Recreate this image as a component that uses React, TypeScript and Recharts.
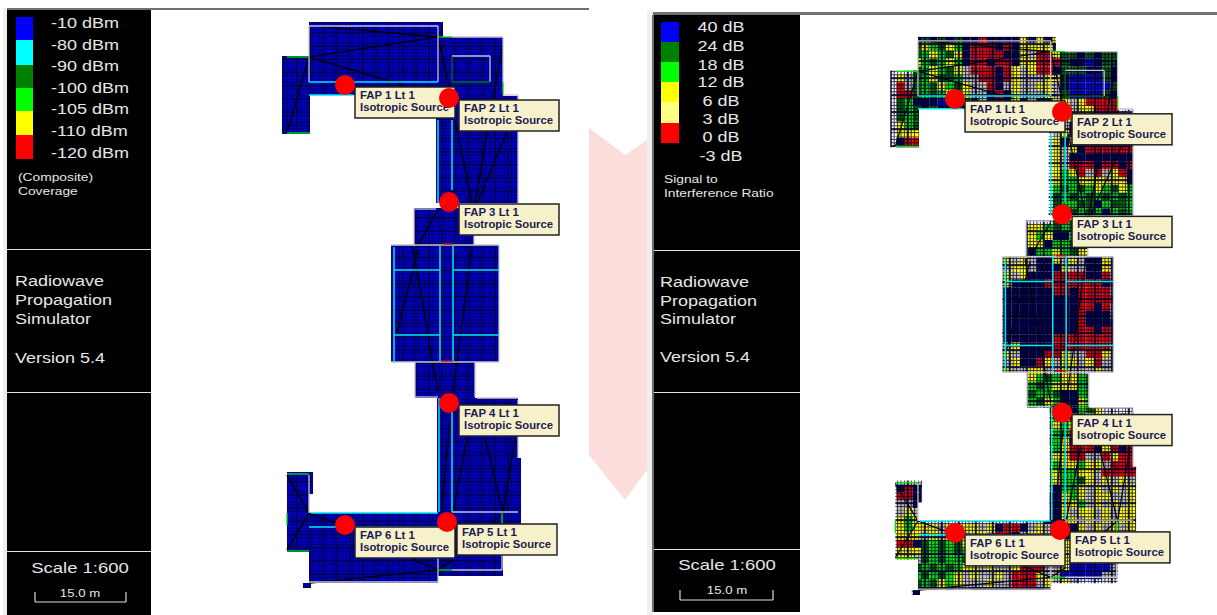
import { ComposedChart, ReferenceArea, ReferenceLine, Scatter, XAxis, YAxis } from "recharts";

// everything is placed on the picture's own grid, the right plan uses a second axis pair
const W = 1217;
const H = 615;

// building outline [x1, y1, x2, y2] in plan units
const rooms = [
  [309, 22, 443, 83],
  [309, 83, 438, 95],
  [282, 56, 310, 134],
  [438, 37, 503, 97],
  [436, 96, 518, 203],
  [414, 208, 474, 247],
  [391, 245, 499, 362],
  [415, 362, 475, 398],
  [437, 398, 518, 513],
  [518, 458, 521, 527],
  [309, 513, 518, 527],
  [287, 472, 309, 552],
  [309, 472, 313, 494],
  [309, 527, 438, 583],
  [438, 527, 503, 576],
  [303, 583, 311, 588],
];

const greyWalls = [
  [309, 26, 438, 26], [438, 26, 438, 82], [309, 26, 309, 82], [452, 37, 503, 37], [503, 37, 503, 83],
  [452, 56, 490, 56], [490, 56, 490, 82], [503, 95, 518, 95], [518, 95, 518, 203], [414, 209, 436, 209],
  [414, 209, 414, 246], [474, 218, 474, 245], [391, 245, 499, 245], [391, 362, 499, 362], [499, 245, 499, 362],
  [415, 362, 415, 397], [415, 397, 438, 397], [475, 362, 475, 397], [477, 398, 518, 398], [518, 400, 518, 458],
  [452, 512, 518, 512], [309, 475, 309, 513], [309, 582, 438, 582], [438, 527, 438, 582], [452, 570, 502, 570],
  [502, 527, 502, 570],
];
const cyanWalls = [
  [309, 82, 438, 82], [309, 95, 353, 95], [438, 120, 438, 203], [452, 120, 452, 190], [394, 247, 394, 362],
  [440, 245, 440, 362], [453, 245, 453, 362], [394, 270, 440, 270], [453, 270, 499, 270], [394, 335, 440, 335],
  [453, 335, 499, 335], [439, 398, 439, 512], [452, 400, 452, 512], [311, 513, 438, 513], [309, 527, 438, 527],
];
const greenWalls = [
  [287, 57, 309, 57], [287, 133, 310, 133], [438, 37, 452, 37], [503, 82, 503, 95], [287, 474, 309, 474],
  [287, 551, 309, 551], [287, 513, 287, 525], [502, 513, 502, 527], [438, 570, 452, 570],
];
const darkGreenWalls = [[452, 82, 490, 82], [452, 56, 452, 82]];
const redWalls = [[443, 244, 453, 244], [441, 361, 453, 361]];
const rays = [
  [315, 26, 437, 37], [309, 57, 437, 37], [309, 57, 403, 85], [309, 57, 287, 133], [438, 37, 450, 90],
  [502, 47, 475, 203], [455, 120, 472, 203], [507, 132, 477, 203], [438, 210, 417, 247], [418, 250, 395, 340],
  [413, 247, 438, 393], [472, 247, 453, 393], [467, 438, 453, 513], [485, 438, 503, 513], [515, 438, 503, 513],
  [287, 475, 309, 513], [309, 513, 287, 550], [309, 513, 335, 523], [438, 570, 310, 583], [438, 570, 410, 558],
  [438, 570, 453, 560], [503, 513, 483, 530], [450, 420, 442, 507],
];

const faps = [
  { x: 345, y: 85, name: "FAP 1 Lt 1" },
  { x: 449, y: 98, name: "FAP 2 Lt 1" },
  { x: 449, y: 202, name: "FAP 3 Lt 1" },
  { x: 449, y: 403, name: "FAP 4 Lt 1" },
  { x: 447, y: 522, name: "FAP 5 Lt 1" },
  { x: 345, y: 525, name: "FAP 6 Lt 1" },
];

// signal to interference map, one row every 8 plan units from y=20, one column every 8 from x=280
const sirRows = [
  "...ngngngnnrnnnnynyny..........",
  "...gyGgyGnrrrnrnyyyyn..........",
  "...gGyGgynrrrrnnywrryggngngg...",
  "...yGgGyGnrrnrrnyyrrrgnnbngg...",
  "...gGyGgywrrrnrywyrrngggnngn...",
  ".ywgGyggGwwrrnrywwwyynbbbbgn...",
  ".rwgGgyGgywwrnwywwyywnbbbbbg...",
  ".rrgGgGygywwnrnywwwywgbbbbgn...",
  ".gGnnnbnGgnwnnnynwnnyywyrrrr...",
  ".gGgngnnnngngnnnnnnnnywyyrrr...",
  ".gGgG...............ywyyyynynyn",
  ".yGgy...............ywnnwnynynyn",
  ".yyyw...............wynnyyynynyy",
  ".nrrr...............ynyrrrrrrnrr",
  ".nrnr...............ywynrrrrrrrn",
  "....................ywnnnnnnnnnn",
  "....................ywrrrnrrnrrr",
  "....................yGyrwrwyrnnn",
  "....................yGGyyyyyynyy",
  "....................GgGgGyGgyGgg",
  "....................gGgGgGgGgGgG",
  "....................gGGggnGggGgn",
  "....................gGgGgGnGgGgg",
  "....................gGgg.......",
  ".................yyGgGgyyy.....",
  ".................yGynnGGyyw....",
  ".................yynGGgyyGy....",
  ".................nGGyGgyyyw....",
  "..............ywywnnywywnnyw...",
  "..............wyywnnnywwnnyw...",
  "..............ywynnnrrrrnnrw...",
  "..............ynnnnrrrrrrrnr...",
  "..............nnnnnnrrnrrrrw...",
  "..............nnnnnnnnnrrrrr...",
  "..............nnnnnnnnnrrnrw...",
  "..............nnnnnnnnnrnnnw...",
  "..............nnnnnnnnnrnnnn...",
  "..............nnnnnnnnnrrnrr...",
  "..............nnnnnnrrrrrrrr...",
  "..............wynnnnrrrrrrrw...",
  "..............ywnnnrrywwrryw...",
  "..............wynnrywyywyrww...",
  "..............ywwyywwywwwywy...",
  ".................yGgGyyGgGgy...",
  ".................GgGyyyGgGg....",
  ".................gGGgnnGgGy....",
  ".................GgyGnnyGgG....",
  ".................gGgnnnGgy.....",
  "...................yGyrnyywynwn",
  "...................gyGynrrynrnr",
  "...................yGGrrnnrrrny",
  "...................gGynrnnnnrrr",
  "...................yGyrrrnyrnrw",
  "...................wyyrrwwryrrr",
  "...................yGyyGyywrrrr",
  "...................yyGGyywrrrrw",
  "...................yyGGgywywywy",
  ".nrn...............wnGGywywywyw",
  ".rrn...............nnyGywyywwyy",
  ".wwn...............nnyyGwywywyw",
  ".wyw...............nnywyywywyyy",
  ".yGy...............nnyywywywyyw",
  ".yGyyywywyywynrrnwywynnywywywyw",
  ".yyywywyywyywrrnwyywwnnywywywyw",
  ".rrngGgGgyGgywywyyrwwyywwywwyww",
  ".yyygGgGgGGgyywyywwwwyywwyw....",
  ".yywgGgGGgGyywyywwrwyybbbbbw...",
  "...gGgGgGyywywwyrrrwwybbbbbw...",
  "...GgGgGywywwywrrrywwbbbbbww...",
  "...gGgyGywwwywwrrrwywyw........",
  "...nnnGnwwnnnnnrrnnwwn.........",
];
const sirColors: Record<string, string> = {
  n: "#00004a",
  g: "#005f00",
  G: "#00e000",
  y: "#ffff00",
  r: "#e00000",
  w: "#c4c4b0",
  b: "#0000e0",
};

const coverageLabels = ["-10 dBm", "-80 dBm", "-90 dBm", "-100 dBm", "-105 dBm", "-110 dBm", "-120 dBm"];
const coverageLabelY = [23, 45, 66, 88, 109, 131, 153];
const coverageColors = ["#0000ff", "#00ffff", "#008000", "#00ff00", "#ffff00", "#ff0000"];
const coverageEdges = [17, 40, 65, 88, 111, 135, 159];

const sirLabels = ["40 dB", "24 dB", "18 dB", "12 dB", "6 dB", "3 dB", "0 dB", "-3 dB"];
const sirLabelY = [27, 46, 65, 82, 101, 119, 137, 156];
const sirLegendColors = ["#0000ff", "#008000", "#00ff00", "#ffff00", "#ffff80", "#ff0000"];
const sirEdges = [22, 42, 62, 82, 102, 123, 143];

const titleLines = ["Radiowave", "Propagation", "Simulator", "Version 5.4"];
const leftTitleY = [281, 300, 319, 358];
const rightTitleY = [282, 301, 319, 357];

const leftTexts = [
  ...coverageLabels.map((t, i) => ({ x: 51, y: coverageLabelY[i], t, s: 15 })),
  { x: 18, y: 177, t: "(Composite)", s: 11.5 },
  { x: 18, y: 191, t: "Coverage", s: 11.5 },
  ...titleLines.map((t, i) => ({ x: 15, y: leftTitleY[i], t, s: 15 })),
  { x: 80, y: 568, t: "Scale 1:600", s: 15.4, mid: true },
  { x: 80, y: 593, t: "15.0 m", s: 11, mid: true },
];
const rightTexts = [
  ...sirLabels.map((t, i) => ({ x: 721, y: sirLabelY[i], t, s: 15, mid: true })),
  { x: 664, y: 179, t: "Signal to", s: 11.5 },
  { x: 664, y: 193, t: "Interference Ratio", s: 11.5 },
  ...titleLines.map((t, i) => ({ x: 660, y: rightTitleY[i], t, s: 15 })),
  { x: 727, y: 565, t: "Scale 1:600", s: 15.4, mid: true },
  { x: 727, y: 590, t: "15.0 m", s: 11, mid: true },
];

const chevron = [
  [589, 128],
  [625, 155],
  [647, 140],
  [647, 470],
  [625, 500],
  [589, 455],
];

const PanelText = (props: any) => {
  const { cx, cy, payload } = props;
  return (
    <text
      transform={`translate(${cx},${cy}) scale(1.2,1)`}
      dominantBaseline="central"
      textAnchor={payload.mid ? "middle" : "start"}
      fontFamily="Liberation Sans, Arial, sans-serif"
      fontSize={payload.s}
      fill="#e6e6e6"
    >
      {payload.t}
    </text>
  );
};

const FapDot = (props: any) => <circle cx={props.cx} cy={props.cy} r={10} fill="#ff0000" />;

const FapTag = (props: any) => {
  const { cx, cy, payload } = props;
  const x = cx + 10;
  const y = cy + 2;
  return (
    <g fontFamily="Liberation Sans, Arial, sans-serif" fontSize={10} fontWeight={700} fill="#1c1c50">
      <rect x={x} y={y} width={100} height={31} fill="#f6f1cb" stroke="#222" strokeWidth={1.5} />
      <text transform={`translate(${x + 5},${y + 12}) scale(1.14,1)`}>{payload.name}</text>
      <text transform={`translate(${x + 5},${y + 24}) scale(1.13,1)`}>Isotropic Source</text>
    </g>
  );
};

// heat cells clipped by the rooms so the outline stays the building's
const heatCells: { x1: number; y1: number; x2: number; y2: number; fill: string }[] = [];
sirRows.forEach((row, j) => {
  row.split("").forEach((ch, i) => {
    if (ch === ".") return;
    const cx1 = 280 + i * 8;
    const cy1 = 20 + j * 8;
    rooms.forEach(([x1, y1, x2, y2]) => {
      const a = Math.max(cx1, x1);
      const b = Math.min(cx1 + 8, x2);
      const c = Math.max(cy1, y1);
      const d = Math.min(cy1 + 8, y2);
      if (a < b && c < d) heatCells.push({ x1: a, y1: c, x2: b, y2: d, fill: sirColors[ch] });
    });
  });
});

const area = (key: string, x1: number, y1: number, x2: number, y2: number, fill: string, axis = "L") => (
  <ReferenceArea
    key={key}
    xAxisId={axis}
    yAxisId={axis}
    x1={x1}
    x2={x2}
    y1={y1}
    y2={y2}
    fill={fill}
    fillOpacity={1}
    stroke="none"
  />
);

const seg = (key: string, s: number[], stroke: string, width: number, axis = "L") => (
  <ReferenceLine
    key={key}
    xAxisId={axis}
    yAxisId={axis}
    segment={[
      { x: s[0], y: s[1] },
      { x: s[2], y: s[3] },
    ]}
    stroke={stroke}
    strokeWidth={width}
  />
);

const wallLines = (axis: string) => [
  ...rays.map((s, i) => seg(`ray${axis}${i}`, s, "#000010", axis === "L" ? 1.6 : 1.2, axis)),
  ...greyWalls.map((s, i) => seg(`grey${axis}${i}`, s, "#c4c4cc", 1.3, axis)),
  ...cyanWalls.map((s, i) => seg(`cyan${axis}${i}`, s, "#00e8e8", 1.5, axis)),
  ...greenWalls.map((s, i) => seg(`green${axis}${i}`, s, "#00e000", 1.3, axis)),
  ...darkGreenWalls.map((s, i) => seg(`dgreen${axis}${i}`, s, "#007000", 1.3, axis)),
  ...redWalls.map((s, i) => seg(`red${axis}${i}`, s, "#e80000", 1.3, axis)),
];

export default function App() {
  return (
    <div style={{ position: "absolute", left: 0, top: 0, width: W, height: H }}>
      <ComposedChart width={W} height={H} margin={{ top: 0, right: 0, bottom: 0, left: 0 }}>
        <defs>
          <pattern id="blueMesh" width="13.2" height="13.2" patternUnits="userSpaceOnUse">
            <rect width="13.2" height="13.2" fill="#0000d0" />
            <path d="M0 0V13.2M3.3 0V13.2M6.6 0V13.2M9.9 0V13.2M0 0H13.2M0 3.3H13.2M0 6.6H13.2M0 9.9H13.2" stroke="#000058" strokeWidth="1.1" opacity="0.9" />
            <path d="M6.6 0V13.2M0 6.6H13.2" stroke="#00004a" strokeWidth="1.8" opacity="0.7" />
          </pattern>
          <pattern id="sirMesh" width="34" height="34" patternUnits="userSpaceOnUse">
            <path d="M0 0V34M3.4 0V34M6.8 0V34M10.2 0V34M13.6 0V34M17 0V34M20.4 0V34M23.8 0V34M27.2 0V34M30.6 0V34M0 0H34M0 3.4H34M0 6.8H34M0 10.2H34M0 13.6H34M0 17H34M0 20.4H34M0 23.8H34M0 27.2H34M0 30.6H34" stroke="#000028" strokeWidth="1" opacity="0.8" />
            <path d="M6.8 0V34M23.8 0V34M0 10.2H34M0 27.2H34" stroke="#000028" strokeWidth="2.2" opacity="0.75" />
          </pattern>
        </defs>
        <XAxis xAxisId="L" dataKey="x" type="number" domain={[0, 1217]} allowDataOverflow hide />
        <YAxis yAxisId="L" dataKey="y" type="number" domain={[0, 615]} reversed allowDataOverflow hide />
        <XAxis xAxisId="R" dataKey="x" type="number" domain={[-583.1, 599.6]} allowDataOverflow hide />
        <YAxis yAxisId="R" dataKey="y" type="number" domain={[-15.4, 608.3]} reversed allowDataOverflow hide />

        {/* window frames and the faint watermark */}
        {area("stripL", 3, 8, 7, 615, "#efefef")}
        {area("topL", 7, 8, 589, 10, "#707070")}
        {area("stripR", 647, 10, 653, 615, "#efefef")}
        {area("topR", 653, 12, 1217, 15, "#707070")}
        <Scatter
          xAxisId="L"
          yAxisId="L"
          data={[{ x: 589, y: 128 }]}
          isAnimationActive={false}
          shape={(p: any) => (
            <polygon
              points={chevron.map(([x, y]) => `${p.cx + x - 589},${p.cy + y - 128}`).join(" ")}
              fill="#fddcdc"
            />
          )}
        />
        {area("panelL", 7, 10, 151, 615, "#000")}
        {area("panelR", 654, 15, 800, 612, "#000")}
        {area("edgeR", 652, 15, 654, 612, "#707070")}
        {[249, 392, 551].map((y) => area(`divL${y}`, 7, y, 151, y + 1, "#e0e0e0"))}
        {[250, 392, 549].map((y) => area(`divR${y}`, 654, y, 800, y + 1, "#e0e0e0"))}
        {coverageColors.map((c, i) => area(`covL${i}`, 16, coverageEdges[i], 33, coverageEdges[i + 1], c))}
        {sirLegendColors.map((c, i) => area(`sirL${i}`, 661, sirEdges[i], 679, sirEdges[i + 1], c))}
        {seg("barL", [35, 602, 126, 602], "#ddd", 1.2)}
        {seg("barL1", [35, 592, 35, 602], "#ddd", 1.2)}
        {seg("barL2", [126, 592, 126, 602], "#ddd", 1.2)}
        {seg("barR", [680, 600, 773, 600], "#ddd", 1.2)}
        {seg("barR1", [680, 590, 680, 600], "#ddd", 1.2)}
        {seg("barR2", [773, 590, 773, 600], "#ddd", 1.2)}

        {/* left plan: coverage is one flat class */}
        {rooms.map(([x1, y1, x2, y2], i) => area(`roomL${i}`, x1, y1, x2, y2, "url(#blueMesh)"))}

        {/* right plan: interference map */}
        {heatCells.map((c, i) => area(`cell${i}`, c.x1, c.y1, c.x2, c.y2, c.fill, "R"))}
        {rooms.map(([x1, y1, x2, y2], i) => area(`roomR${i}`, x1, y1, x2, y2, "url(#sirMesh)", "R"))}

        {wallLines("L")}
        {wallLines("R")}

        <Scatter xAxisId="L" yAxisId="L" data={leftTexts} shape={PanelText} isAnimationActive={false} />
        <Scatter xAxisId="L" yAxisId="L" data={rightTexts} shape={PanelText} isAnimationActive={false} />
        <Scatter xAxisId="L" yAxisId="L" data={faps} shape={FapTag} isAnimationActive={false} />
        <Scatter xAxisId="R" yAxisId="R" data={faps} shape={FapTag} isAnimationActive={false} />
        <Scatter xAxisId="L" yAxisId="L" data={faps} shape={FapDot} isAnimationActive={false} />
        <Scatter xAxisId="R" yAxisId="R" data={faps} shape={FapDot} isAnimationActive={false} />
      </ComposedChart>
    </div>
  );
}
